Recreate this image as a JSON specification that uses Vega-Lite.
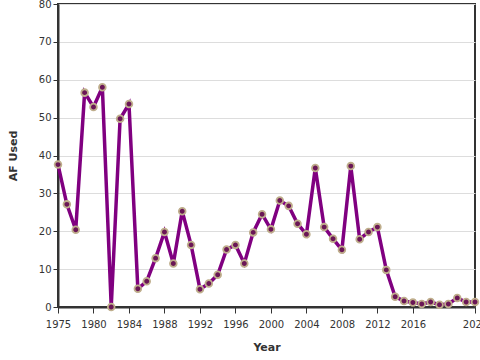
{
  "$schema": "https://vega.github.io/schema/vega-lite/v6.json",
  "autosize": {"type": "none"},
  "padding": {"left": 58, "top": 4, "right": 5, "bottom": 53},
  "width": 417,
  "height": 303,
  "config": {
    "font": "DejaVu Sans",
    "view": {"stroke": "#333", "strokeWidth": 2},
    "axis": {"labelFont": "DejaVu Sans", "titleFont": "DejaVu Sans", "labelColor": "#333", "titleColor": "#333", "domainColor": "#333", "domainWidth": 2, "tickColor": "#333", "labelFontSize": 10, "titleFontSize": 11, "titleFontWeight": "bold", "gridColor": "#ddd"}
  },
  "data": {"values": [
    {"Year": 1976, "AF": 37.6}, {"Year": 1977, "AF": 27.1}, {"Year": 1978, "AF": 20.4}, {"Year": 1979, "AF": 56.6},
    {"Year": 1980, "AF": 52.8}, {"Year": 1981, "AF": 58.0}, {"Year": 1982, "AF": 0.0}, {"Year": 1983, "AF": 49.7},
    {"Year": 1984, "AF": 53.6}, {"Year": 1985, "AF": 4.8}, {"Year": 1986, "AF": 6.8}, {"Year": 1987, "AF": 12.9},
    {"Year": 1988, "AF": 19.8}, {"Year": 1989, "AF": 11.5}, {"Year": 1990, "AF": 25.3}, {"Year": 1991, "AF": 16.4},
    {"Year": 1992, "AF": 4.7}, {"Year": 1993, "AF": 6.2}, {"Year": 1994, "AF": 8.5}, {"Year": 1995, "AF": 15.2},
    {"Year": 1996, "AF": 16.4}, {"Year": 1997, "AF": 11.5}, {"Year": 1998, "AF": 19.7}, {"Year": 1999, "AF": 24.5},
    {"Year": 2000, "AF": 20.5}, {"Year": 2001, "AF": 28.1}, {"Year": 2002, "AF": 26.7}, {"Year": 2003, "AF": 22.0},
    {"Year": 2004, "AF": 19.2}, {"Year": 2005, "AF": 36.7}, {"Year": 2006, "AF": 21.1}, {"Year": 2007, "AF": 18.0},
    {"Year": 2008, "AF": 15.1}, {"Year": 2009, "AF": 37.2}, {"Year": 2010, "AF": 17.9}, {"Year": 2011, "AF": 19.8},
    {"Year": 2012, "AF": 21.1}, {"Year": 2013, "AF": 9.8}, {"Year": 2014, "AF": 2.7}, {"Year": 2015, "AF": 1.6},
    {"Year": 2016, "AF": 1.2}, {"Year": 2017, "AF": 0.8}, {"Year": 2018, "AF": 1.3}, {"Year": 2019, "AF": 0.6},
    {"Year": 2020, "AF": 0.8}, {"Year": 2021, "AF": 2.4}, {"Year": 2022, "AF": 1.3}, {"Year": 2023, "AF": 1.3}
  ]},
  "mark": {
    "type": "line",
    "color": "#800080",
    "strokeWidth": 3.5,
    "point": {"filled": true, "fill": "#6a1656", "stroke": "#bfae8c", "strokeWidth": 1.8, "size": 45, "opacity": 1}
  },
  "encoding": {
    "x": {
      "field": "Year", "type": "quantitative",
      "scale": {"domain": [1976, 2023], "nice": false, "zero": false},
      "axis": {
        "title": "Year", "grid": false,
        "values": [1976, 1980, 1984, 1988, 1992, 1996, 2000, 2004, 2008, 2012, 2016, 2023],
        "labelExpr": "datum.value == 1976 ? '1975' : datum.value == 2023 ? '2020' : format(datum.value, 'd')",
        "tickSize": 6, "labelPadding": 6, "titlePadding": 12, "labelOverlap": false, "labelFlush": false
      }
    },
    "y": {
      "field": "AF", "type": "quantitative",
      "scale": {"domain": [0, 80], "nice": false},
      "axis": {"title": "AF Used", "values": [0, 10, 20, 30, 40, 50, 60, 70, 80], "labelOverlap": false, "tickSize": 5, "labelPadding": 2, "titlePadding": 20}
    }
  }
}
